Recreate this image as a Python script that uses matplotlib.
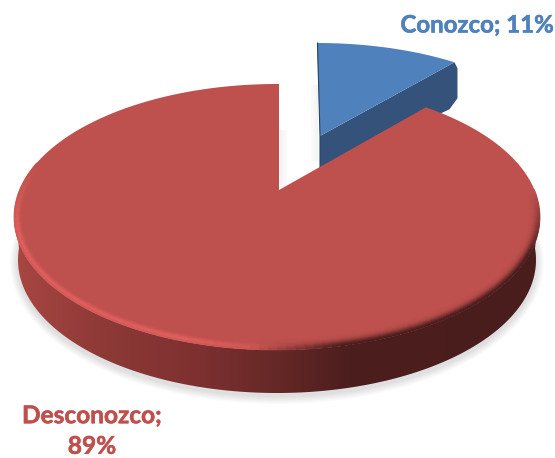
import numpy as np
import matplotlib
matplotlib.use("Agg")
import matplotlib.pyplot as plt
import matplotlib.patheffects as pe
from matplotlib.collections import LineCollection
from matplotlib.colors import ListedColormap
from matplotlib.patches import Polygon

labels = ["Conozco", "Desconozco"]
values = [11, 89]

blue_top = np.array([79, 129, 189]) / 255
blue_side = np.array([52, 82, 122]) / 255
red_top = np.array([190, 80, 77]) / 255
red_light = np.array([224, 96, 94]) / 255
red_dark = np.array([76, 30, 30]) / 255

# the tilt squeezes angles near the back of the pie
squeeze = 0.87
sweep = np.radians(360 * values[0] / sum(values) * squeeze)


def arc(cx, cy, rx, ry, t0, t1, n=200):
    t = np.linspace(t0, t1, n)
    return np.column_stack([cx + rx * np.sin(t), cy - ry * np.cos(t)])


fig = plt.figure(figsize=(5.55, 4.58), dpi=100)
ax = fig.add_axes([0, 0, 1, 1])

# soft shadow under the pie
for k in range(8, 0, -1):
    shadow = arc(277, 263, 259 + k, 133 + k, np.radians(70), np.radians(290))
    ax.add_patch(Polygon(shadow, fc="black", ec="none", alpha=0.016, zorder=1))

# shadows beside the gap
for i in range(7):
    ax.plot([317 - i, 317 - i], [85, 160], color="black", alpha=0.035 - i * 0.004, lw=1, zorder=1)
    ax.plot([280 + i, 280 + i], [130, 186], color="black", alpha=0.035 - i * 0.004, lw=1, zorder=1)

# blue slice
blue_arc = arc(317, 153, 243, 110, 0, sweep)
apex_b = np.array([320, 136])
tip = blue_arc[-1]
side_b = np.array([apex_b, tip, tip + [3, 6], tip + [3, 36], tip + [-5, 47], [320, 170]])
ax.add_patch(Polygon(side_b, fc=blue_side, ec="none", zorder=2))
ax.add_patch(Polygon(np.vstack([[apex_b], blue_arc]), fc=blue_top, ec="none", zorder=3))
ax.plot([317.5, 320, 320], [43, 136, 168], color="#2a4468", lw=0.8, zorder=3)

# red side, shaded from left to right
top_edge = arc(277, 217, 263, 133, np.radians(85), np.radians(275))
bottom_edge = arc(277, 260, 259, 133, np.radians(85), np.radians(275))
side_r = Polygon(np.vstack([top_edge, bottom_edge[::-1]]), transform=ax.transData)
xs = np.linspace(14, 541, 256)
shade = np.column_stack([
    np.interp(xs, [14, 100, 200, 280, 350, 541], [168, 142, 125, 100, 76, 74]),
    np.interp(xs, [14, 100, 200, 280, 350, 541], [70, 58, 48, 40, 30, 29]),
    np.interp(xs, [14, 100, 200, 280, 350, 541], [66, 55, 48, 38, 30, 29]),
]) / 255
img = ax.imshow(np.arange(256)[None, :], cmap=ListedColormap(shade), extent=(14, 541, 400, 210), aspect="auto", zorder=4)
img.set_clip_path(side_r)

# red top face
red_arc = arc(277, 217, 263, 133, sweep, 2 * np.pi, 400)
ax.add_patch(Polygon(np.vstack([[[279, 190]], red_arc, [[279, 84]]]), fc=red_top, ec="none", zorder=5))

# bevel along the front rim
for d in np.arange(10.5, 0, -1.0):
    tt = np.radians(np.arange(78, 296, 2.0))
    pts = arc(277, 217, 263 - d, 133 - d, tt[0], tt[-1], len(tt))
    segs = np.stack([pts[:-1], pts[1:]], axis=1)
    deg = np.degrees(tt[:-1])
    dark = np.interp(deg, [78, 105, 165, 185], [0, 1, 1, 0]) * np.exp(-(d / 5.0) ** 2)
    light = np.interp(deg, [170, 200, 265, 294], [0, 1, 1, 0]) * np.exp(-((d - 2.5) / 3.0) ** 2)
    cols = red_top + dark[:, None] * (red_dark - red_top) + light[:, None] * (red_light - red_top)
    ax.add_collection(LineCollection(segs, colors=cols, linewidths=1.3, zorder=6))

stroke = [pe.withStroke(linewidth=0.4, foreground="#4F81BD")]
ax.text(477, 25, f"{labels[0]}; {values[0]}%", color="#4F81BD", fontsize=17.3, fontweight="bold",
        family="Lato", ha="center", va="center", path_effects=stroke)
stroke = [pe.withStroke(linewidth=0.4, foreground="#C0504D")]
ax.text(92, 431, f"{labels[1]};\n{values[1]}%", color="#C0504D", fontsize=17.6, fontweight="bold",
        family="Lato", ha="center", va="center", linespacing=1.4, path_effects=stroke)

ax.set_xlim(0, 555)
ax.set_ylim(458, 0)
ax.axis("off")
fig.savefig("out.png", dpi=100)
